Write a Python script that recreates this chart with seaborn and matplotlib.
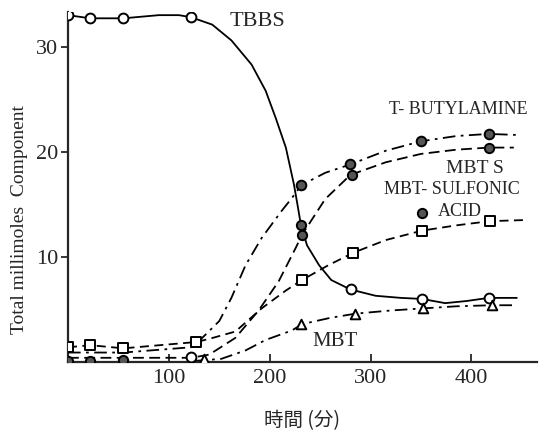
import matplotlib
matplotlib.use("Agg")
import matplotlib.pyplot as plt
import seaborn as sns
import pandas as pd

# ---- curves (time in min, millimoles) ----
tbbs_t = [0, 22, 55, 90, 110, 122, 143, 162, 182, 196, 206, 216, 224, 228, 231, 237, 249, 261, 280, 305, 330, 351, 374, 395, 417, 445]
tbbs_v = [33.0, 32.7, 32.7, 33.0, 33.0, 32.8, 32.1, 30.6, 28.3, 25.8, 23.2, 20.4, 16.9, 14.7, 13.0, 11.1, 9.2, 7.8, 6.9, 6.3, 6.1, 6.0, 5.6, 5.8, 6.1, 6.1]

tba_t = [0, 22, 55, 122, 130, 150, 162, 176, 192, 212, 222, 231, 255, 280, 315, 350, 385, 417, 446]
tba_v = [0.9, 0.9, 0.9, 1.4, 2.0, 3.9, 6.1, 9.2, 11.8, 14.4, 15.6, 16.8, 18.0, 18.8, 20.1, 21.0, 21.5, 21.7, 21.6]

mbts_t = [0, 55, 122, 140, 166, 189, 209, 226, 232, 255, 280, 315, 350, 385, 417, 442]
mbts_v = [0.4, 0.4, 0.4, 0.7, 2.3, 4.9, 7.7, 10.9, 12.1, 15.5, 17.8, 19.0, 19.8, 20.2, 20.4, 20.4]

sulf_t = [0, 22, 55, 127, 140, 166, 192, 216, 232, 258, 283, 315, 351, 385, 418, 451]
sulf_v = [1.4, 1.6, 1.3, 1.9, 2.2, 2.9, 5.1, 6.8, 7.8, 9.2, 10.4, 11.6, 12.5, 13.0, 13.4, 13.5]

mbt_t = [125, 152, 176, 196, 222, 232, 260, 285, 320, 352, 385, 420, 445]
mbt_v = [0.1, 0.3, 1.1, 2.1, 3.0, 3.6, 4.2, 4.6, 4.9, 5.1, 5.3, 5.4, 5.4]

# ---- measured points ----
tbbs_pt_t = [0, 22, 55, 122, 281, 351, 417, 122]
tbbs_pt_v = [33.0, 32.7, 32.7, 32.8, 6.9, 6.0, 6.1, 0.5]
tba_pt_t = [231, 280, 350, 417]
tba_pt_v = [16.8, 18.8, 21.0, 21.7]
mbts_pt_t = [0, 22, 55, 231, 232, 282, 417, 351]
mbts_pt_v = [0.1, 0.1, 0.2, 13.0, 12.1, 17.8, 20.4, 14.2]
sulf_pt_t = [0, 22, 55, 127, 232, 283, 351, 418]
sulf_pt_v = [1.4, 1.6, 1.3, 1.9, 7.8, 10.4, 12.5, 13.4]
mbt_pt_t = [135, 231, 285, 352, 420]
mbt_pt_v = [0.3, 3.6, 4.6, 5.1, 5.4]

x_ticks = [100, 200, 300, 400]
y_ticks = [10, 20, 30]

sns.set_style("ticks")
plt.rcParams["font.family"] = ["Liberation Serif", "DejaVu Serif"]

fig = plt.figure(figsize=(5.47, 4.33), dpi=100)
ax = fig.add_axes([68 / 547, 71 / 433, (537 - 68) / 547, (421 - 71) / 433])

lw = 1.3
def curve(t, v, dashes):
    df = pd.DataFrame({"t": t, "v": v})
    sns.lineplot(data=df, x="t", y="v", ax=ax, color="black", linewidth=lw,
                 sort=False, estimator=None)
    line = ax.lines[-1]
    line.set_solid_joinstyle("round")
    if dashes is not None:
        line.set_dashes(dashes)

curve(tbbs_t, tbbs_v, None)
curve(tba_t, tba_v, (7, 3, 1.5, 3))
curve(mbts_t, mbts_v, (6, 3))
curve(sulf_t, sulf_v, (5, 3))
curve(mbt_t, mbt_v, (7, 3, 1.5, 3))

def points(t, v, marker, face, size):
    df = pd.DataFrame({"t": t, "v": v})
    sns.scatterplot(data=df, x="t", y="v", ax=ax, marker=marker, s=size,
                    facecolor=face, edgecolor="black", linewidth=1.4, zorder=5)

points(tbbs_pt_t, tbbs_pt_v, "o", "white", 50)
points(tba_pt_t, tba_pt_v, "o", "#555555", 48)
points(mbts_pt_t, mbts_pt_v, "o", "#555555", 45)
points(sulf_pt_t, sulf_pt_v, "s", "white", 42)
points(mbt_pt_t, mbt_pt_v, "^", "white", 48)

ax.set_xlim(0, 465)
ax.set_ylim(0, 33.3)
ax.set_xticks(x_ticks)
ax.set_yticks(y_ticks)
ax.tick_params(axis="x", direction="in", length=6, width=1.3, labelsize=16, pad=5)
ax.tick_params(axis="y", direction="out", length=5, width=1.3, labelsize=16, pad=2)
sns.despine(ax=ax)
for s in ("left", "bottom"):
    ax.spines[s].set_linewidth(1.6)

ax.set_xlabel("時間 (分)", family=["Noto Sans CJK JP", "DejaVu Sans"], fontsize=14, labelpad=16)
ax.set_ylabel("")
fig.text(20 / 547, 1 - 220 / 433, "Total millimoles  Component", rotation=90,
         ha="center", va="center", fontsize=14)

def label(x, y, s, size=15):
    fig.text(x / 547, 1 - y / 433, s, ha="center", va="center", fontsize=size)

label(257, 22, "TBBS", 16)
label(458, 110, "T- BUTYLAMINE", 13)
label(475, 168, "MBT S", 14)
label(452, 190, "MBT- SULFONIC", 13)
label(460, 211, "ACID", 13)
label(335, 342, "MBT", 15)

fig.savefig("out.png", dpi=100)
